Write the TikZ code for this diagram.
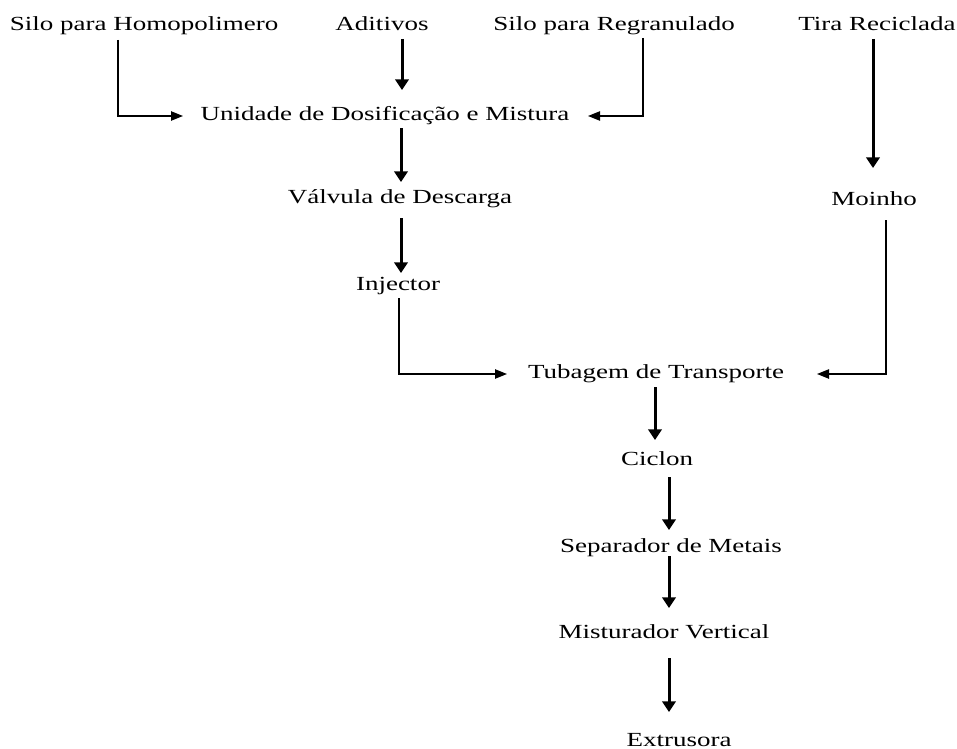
\documentclass[tikz,border=0pt]{standalone}
\usepackage{fontspec}
\setmainfont{Liberation Serif}
\usetikzlibrary{arrows.meta,calc}

\begin{document}
\begin{tikzpicture}[x=0.75pt,y=-0.75pt,
  lbl/.style={inner sep=0pt, anchor=base, xscale=1.35, font=\fontsize{15}{18}\selectfont},
  mainflow/.style={line width=2.25pt, -{Triangle[width=10pt,length=8pt]}},
  sideflow/.style={line width=1pt, -{Triangle[width=7pt,length=9pt]}}]
\useasboundingbox (0,0) rectangle (957,749);

\node (homo) [lbl] at (144,31) {Silo para Homopolimero};
\node (adit) [lbl] at (382,31) {Aditivos};
\node (regran) [lbl] at (614,31) {Silo para Regranulado};
\node (tira) [lbl] at (877,31) {Tira Reciclada};
\node (unid) [lbl] at (385,120) {Unidade de Dosificação e Mistura};
\node (valv) [lbl] at (400,203) {Válvula de Descarga};
\node (moinho) [lbl] at (874,205) {Moinho};
\node (inject) [lbl] at (398,290) {Injector};
\node (tubag) [lbl] at (656,378) {Tubagem de Transporte};
\node (ciclon) [lbl] at (657,465) {Ciclon};
\node (separ) [lbl] at (671,552) {Separador de Metais};
\node (mistur) [lbl] at (664,638) {Misturador Vertical};
\node (extrus) [lbl] at (679,746) {Extrusora};

% alimentacao da unidade de dosificacao
\draw[sideflow] ($(homo.base)+(-26,9)$) |- ($(unid.base)+(-202,-4)$);
\draw[mainflow] ($(adit.base)+(20,8)$) -- ($(unid.base)+(17,-30)$);
\draw[sideflow] ($(regran.base)+(29,7)$) |- ($(unid.base)+(203,-4)$);
\draw[mainflow] ($(tira.base)+(-4,8)$) -- ($(moinho.base)+(-1,-37)$);

\draw[mainflow] ($(unid.base)+(16,8)$) -- ($(valv.base)+(1,-21)$);
\draw[mainflow] ($(valv.base)+(1,15)$) -- ($(inject.base)+(3,-17)$);

% transporte
\draw[sideflow] ($(inject.base)+(1,8)$) |- ($(tubag.base)+(-149,-4)$);
\draw[sideflow] ($(moinho.base)+(12,15)$) |- ($(tubag.base)+(161,-4)$);

\draw[mainflow] ($(tubag.base)+(-1,9)$) -- ($(ciclon.base)+(-2,-25)$);
\draw[mainflow] ($(ciclon.base)+(12,12)$) -- ($(separ.base)+(-2,-22)$);
\draw[mainflow] ($(separ.base)+(-2,4)$) -- ($(mistur.base)+(5,-30)$);
\draw[mainflow] ($(mistur.base)+(5,20)$) -- ($(extrus.base)+(-10,-34)$);
\end{tikzpicture}
\end{document}
